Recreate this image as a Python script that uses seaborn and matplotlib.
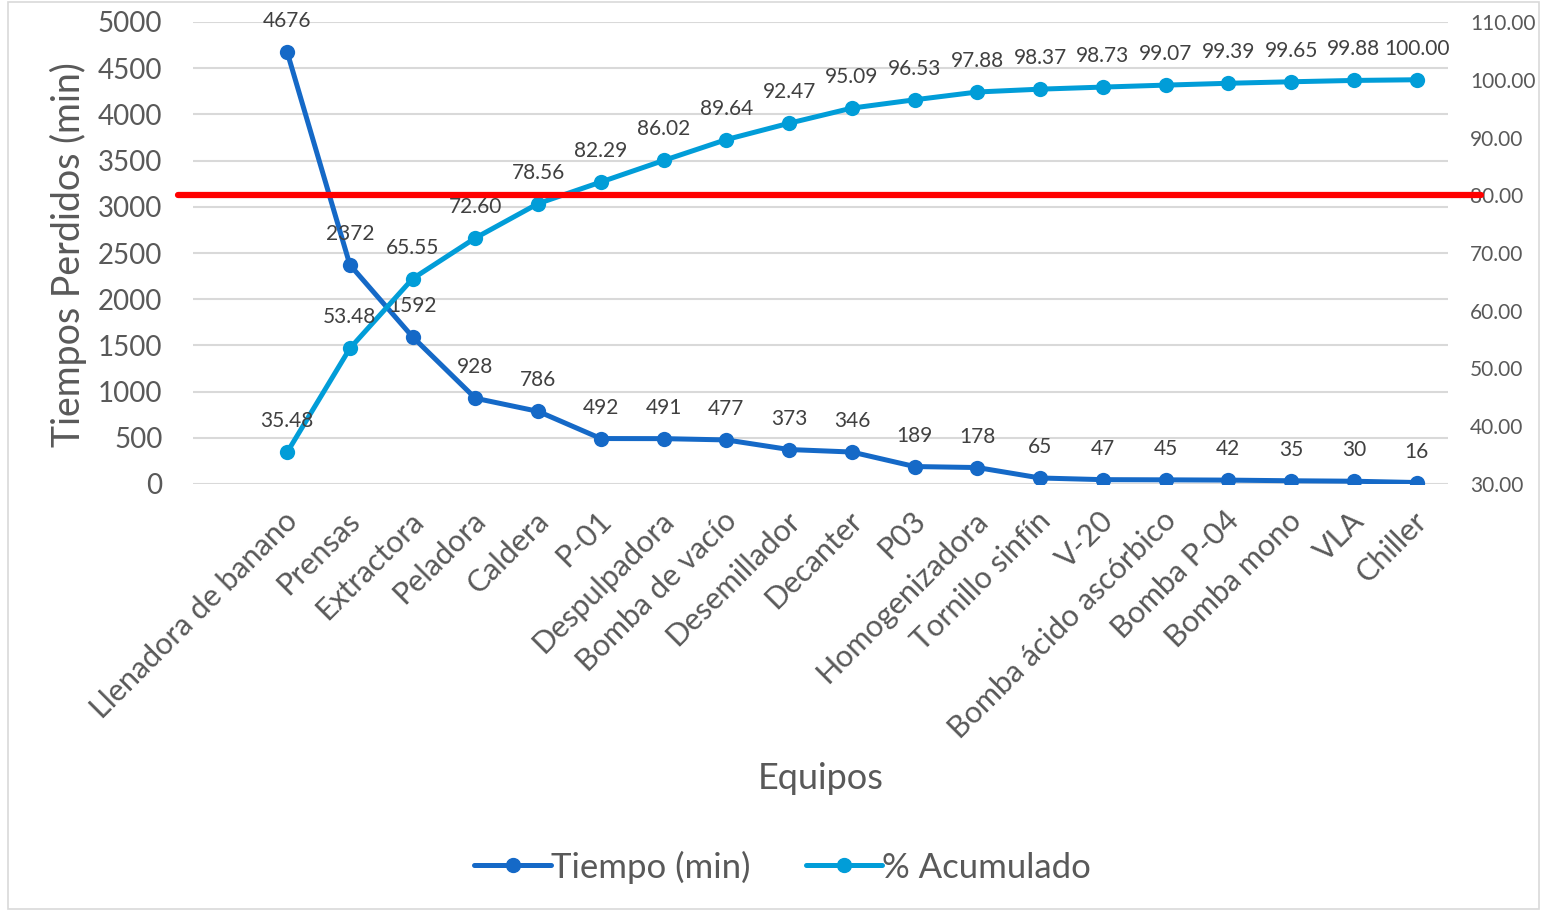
import matplotlib
matplotlib.use('Agg')
import matplotlib.pyplot as plt
import matplotlib.transforms as mtransforms
from matplotlib.lines import Line2D
from matplotlib.patches import Rectangle
import numpy as np
import pandas as pd
import seaborn as sns

# datos del pareto
equipos = ['Llenadora de banano', 'Prensas', 'Extractora', 'Peladora', 'Caldera', 'P-01',
           'Despulpadora', 'Bomba de vacío', 'Desemillador', 'Decanter', 'P03',
           'Homogenizadora', 'Tornillo sinfín', 'V-20', 'Bomba ácido ascórbico',
           'Bomba P-04', 'Bomba mono', 'VLA', 'Chiller']
tiempo = [4676, 2372, 1592, 928, 786, 492, 491, 477, 373, 346, 189, 178, 65, 47, 45, 42, 35, 30, 16]
acumulado = [35.48, 53.48, 65.55, 72.60, 78.56, 82.29, 86.02, 89.64, 92.47, 95.09, 96.53,
             97.88, 98.37, 98.73, 99.07, 99.39, 99.65, 99.88, 100.00]
left_ticks = [0, 500, 1000, 1500, 2000, 2500, 3000, 3500, 4000, 4500, 5000]
right_ticks = [30, 40, 50, 60, 70, 80, 90, 100, 110]
limite = 80

df = pd.DataFrame({'pos': np.arange(len(equipos)), 'Equipo': equipos,
                   'Tiempo': tiempo, 'Acumulado': acumulado})

azul = '#1569C7'
celeste = '#019DD8'
gris = '#595959'

sns.set_style('white')
plt.rcParams['font.family'] = ['Lato', 'DejaVu Sans']

fig = plt.figure(figsize=(15.41, 9.11), dpi=100)
ax = fig.add_axes([193/1541, 1-484/911, (1448-193)/1541, 462/911])
ax2 = ax.twinx()

# gridlines (eje izquierdo)
ax.set_ylim(0, 5000)
ax.set_yticks(left_ticks)
ax.grid(axis='y', color='#D9D9D9', linewidth=1.5)
ax.set_axisbelow(True)

sns.lineplot(data=df, x='pos', y='Tiempo', ax=ax, color=azul, linewidth=3.6,
             marker='o', markersize=11, markeredgewidth=0, zorder=3)
sns.lineplot(data=df, x='pos', y='Acumulado', ax=ax2, color=celeste, linewidth=3.6,
             marker='o', markersize=11, markeredgewidth=0, zorder=3)

ax.set_xlim(-1.5, 18.5)
ax2.set_ylim(30, 110)
ax2.set_yticks(right_ticks)
ax2.set_yticklabels([f'{v:.2f}' for v in right_ticks])

# linea del 80 %
ax2.axhline(limite, xmin=-0.012, xmax=1.026, color='#FF0000', linewidth=4.5,
            clip_on=False, zorder=5)

for a in (ax, ax2):
    for s in a.spines.values():
        s.set_visible(False)
    a.tick_params(length=0)

ax.tick_params(axis='y', labelsize=20, labelcolor=gris, pad=22)
ax2.tick_params(axis='y', labelsize=15, labelcolor=gris, pad=16)

ax.set_xticks(df['pos'])
ax.set_xticklabels(equipos, rotation=45, ha='right', va='top', rotation_mode='anchor',
                   fontsize=22, color=gris)
ax.tick_params(axis='x', pad=16)
offset = mtransforms.ScaledTranslation(-4/100, 0, fig.dpi_scale_trans)
for lbl in ax.get_xticklabels():
    lbl.set_transform(lbl.get_transform() + offset)

# etiquetas de datos
for x, y in zip(df['pos'], tiempo):
    ax.annotate(f'{y}', (x, y), xytext=(0, 31), textcoords='offset pixels',
                ha='center', va='center', fontsize=15, color='#404040', zorder=6)
for x, y in zip(df['pos'], acumulado):
    ax2.annotate(f'{y:.2f}', (x, y), xytext=(0, 31), textcoords='offset pixels',
                 ha='center', va='center', fontsize=15, color='#404040', zorder=6)

ax.set_ylabel('Tiempos Perdidos (min)', fontsize=27, color=gris)
ax.yaxis.label.set_va('center')
ax.yaxis.set_label_coords(-0.0996, 0.496)
ax2.set_ylabel('')
ax.set_xlabel('Equipos', fontsize=26, color=gris)
ax.xaxis.set_label_coords(0.5, -0.638)
ax.xaxis.label.set_va('center')

handles = [Line2D([], [], color=azul, linewidth=3.6, marker='o', markersize=10),
           Line2D([], [], color=celeste, linewidth=3.6, marker='o', markersize=10)]
fig.legend(handles, ['Tiempo (min)', '% Acumulado'], loc='center',
           bbox_to_anchor=(0.508, 1-867/911), ncol=2, frameon=False, fontsize=25,
           handlelength=2.2, handletextpad=0.0, columnspacing=1.6, labelcolor=gris)

# borde del grafico
fig.patches.append(Rectangle((8/1541, 2/911), 1-10/1541, 1-4/911, transform=fig.transFigure,
                             fill=False, edgecolor='#D9D9D9', linewidth=1.2))

fig.savefig('out.png', dpi=100)
